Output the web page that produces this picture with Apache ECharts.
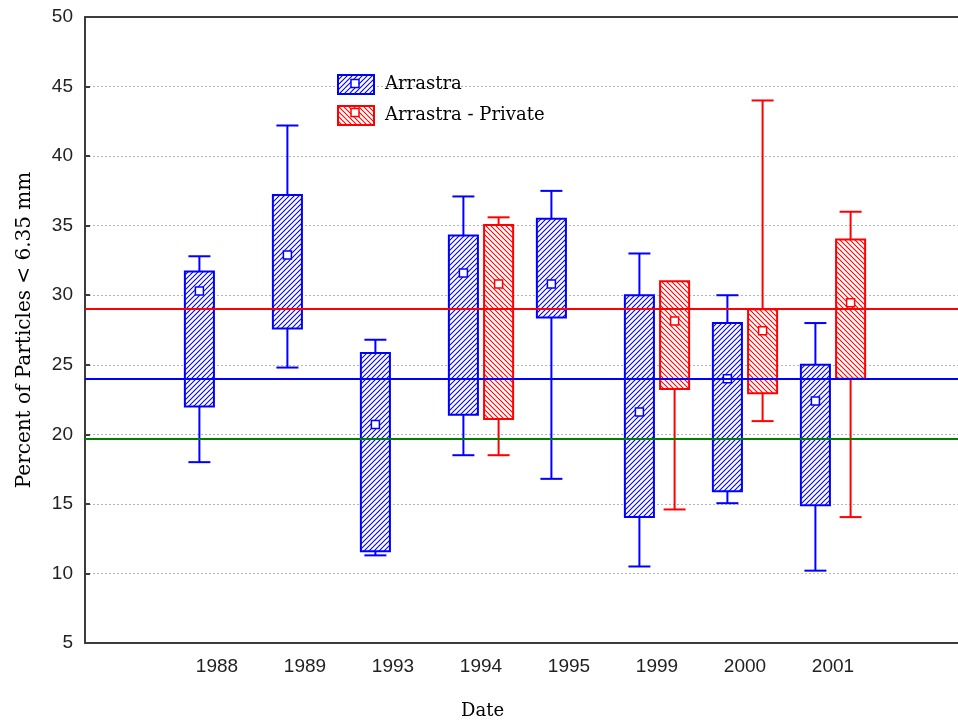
<!DOCTYPE html>
<html>
<head>
<meta charset="utf-8">
<script src="https://cdn.jsdelivr.net/npm/echarts@6/dist/echarts.min.js"></script>
<style>html,body{margin:0;padding:0;background:#fff;}#main{width:958px;height:724px;}</style>
</head>
<body>
<div id="main"></div>
<script>
// ---- data ----
const categories = ['', '1988', '1989', '1993', '1994', '1995', '1999', '2000', '2001', ' ', '  '];
const yTicks = [5, 10, 15, 20, 25, 30, 35, 40, 45, 50];

const arrastraYears = ['1988', '1989', '1993', '1994', '1995', '1999', '2000', '2001'];
const arrastraMin  = [18.0, 24.8, 11.3, 18.5, 16.8, 10.5, 15.05, 10.2];
const arrastraQ1   = [22.0, 27.6, 11.6, 21.4, 28.4, 14.05, 15.9, 14.9];
const arrastraMean = [30.3, 32.9, 20.7, 31.6, 30.8, 21.6, 24.0, 22.4];
const arrastraQ3   = [31.7, 37.2, 25.85, 34.3, 35.5, 30.0, 28.0, 25.0];
const arrastraMax  = [32.8, 42.2, 26.8, 37.1, 37.5, 33.0, 30.0, 28.0];

const privateYears = ['1994', '1999', '2000', '2001'];
const privateMin  = [18.5, 14.6, 20.95, 14.05];
const privateQ1   = [21.1, 23.25, 22.95, 24.0];
const privateMean = [30.8, 28.15, 27.45, 29.45];
const privateQ3   = [35.05, 31.0, 29.0, 34.0];
const privateMax  = [35.6, 31.0, 44.0, 36.0];

const refLineRed = 29.0;
const refLineBlue = 24.0;
const refLineGreen = 19.65;

// ---- styles ----
const BLUE = '#0000ff', RED = '#ff0000', GREEN = '#008000';

function hatch(color, dir) {
  const n = 5;
  const c = document.createElement('canvas');
  c.width = n; c.height = n;
  const ctx = c.getContext('2d');
  ctx.fillStyle = '#ffffff';
  ctx.fillRect(0, 0, n, n);
  ctx.strokeStyle = color;
  ctx.lineWidth = 1.1;
  ctx.beginPath();
  if (dir === '/') {
    for (let k = -1; k <= 1; k++) {
      ctx.moveTo(k * n - 1, n + 1);
      ctx.lineTo(k * n + n + 1, -1);
    }
  } else {
    for (let k = -1; k <= 1; k++) {
      ctx.moveTo(k * n - 1, -1);
      ctx.lineTo(k * n + n + 1, n + 1);
    }
  }
  ctx.stroke();
  return { image: c, repeat: 'repeat' };
}
const bluePattern = hatch(BLUE, '/');
const redPattern = hatch(RED, '\\');

function build(years, mn, q1, mean, q3, mx) {
  return years.map((y, i) => [y, mn[i], q1[i], mean[i], q3[i], mx[i]]);
}

function makeRender(offset, color, pattern) {
  return function (params, api) {
    const cat = api.value(0);
    const band = api.size([1, 0])[0];
    const cx = api.coord([cat, 0])[0] + offset * band;
    const yMin = api.coord([cat, api.value(1)])[1];
    const yQ1 = api.coord([cat, api.value(2)])[1];
    const yMean = api.coord([cat, api.value(3)])[1];
    const yQ3 = api.coord([cat, api.value(4)])[1];
    const yMax = api.coord([cat, api.value(5)])[1];
    const bw = band * 0.33;
    const cw = band * 0.25;
    const ls = { stroke: color, lineWidth: 2 };
    const children = [];
    if (yMax < yQ3 - 0.5) {
      children.push({ type: 'line', shape: { x1: cx, y1: yQ3, x2: cx, y2: yMax }, style: ls });
      children.push({ type: 'line', shape: { x1: cx - cw / 2, y1: yMax, x2: cx + cw / 2, y2: yMax }, style: ls });
    }
    if (yMin > yQ1 + 0.5) {
      children.push({ type: 'line', shape: { x1: cx, y1: yQ1, x2: cx, y2: yMin }, style: ls });
      children.push({ type: 'line', shape: { x1: cx - cw / 2, y1: yMin, x2: cx + cw / 2, y2: yMin }, style: ls });
    }
    children.push({ type: 'rect', shape: { x: cx - bw / 2, y: yQ3, width: bw, height: yQ1 - yQ3 },
      style: { fill: pattern, stroke: color, lineWidth: 2 } });
    children.push({ type: 'rect', shape: { x: cx - 4, y: yMean - 4, width: 8, height: 8 },
      style: { fill: '#ffffff', stroke: color, lineWidth: 1.5 } });
    return { type: 'group', children };
  };
}

const axisColor = '#3c3c3c';
const tickFont = { fontFamily: 'Liberation Sans', fontSize: 19, color: '#222' };
const serif = 'DejaVu Serif';

// legend layout (decoration only)
const legendLeft = 337, legendTop = 74, swatchW = 36, swatchH = 19, swatchGap = 10;

const chart = echarts.init(document.getElementById('main'), null, { renderer: 'canvas' });
chart.setOption({
  animation: false,
  backgroundColor: '#ffffff',
  grid: { left: 85, top: 17, bottom: 81, width: 968, containLabel: false, outerBoundsMode: 'none' },
  title: {
    text: 'Date', left: 461, top: 702, padding: 0,
    textStyle: { fontFamily: serif, fontSize: 18, fontWeight: 'normal', color: '#000' }
  },
  legend: {
    orient: 'vertical', left: legendLeft, top: legendTop, padding: 0,
    itemWidth: swatchW, itemHeight: swatchH, itemGap: swatchGap,
    textStyle: { fontFamily: serif, fontSize: 18, color: '#000', padding: [0, 0, 0, 6] },
    data: [
      { name: 'Arrastra', icon: 'rect', itemStyle: { color: bluePattern, borderColor: BLUE, borderWidth: 2 } },
      { name: 'Arrastra - Private', icon: 'rect', itemStyle: { color: redPattern, borderColor: RED, borderWidth: 2 } }
    ]
  },
  graphic: [
    { type: 'rect', z: 100, silent: true,
      shape: { x: legendLeft + swatchW / 2 - 4, y: legendTop + swatchH / 2 - 4, width: 8, height: 8 },
      style: { fill: '#ffffff', stroke: BLUE, lineWidth: 1.5 } },
    { type: 'rect', z: 100, silent: true,
      shape: { x: legendLeft + swatchW / 2 - 4, y: legendTop + swatchH + swatchGap + swatchH / 2 - 4, width: 8, height: 8 },
      style: { fill: '#ffffff', stroke: RED, lineWidth: 1.5 } }
  ],
  xAxis: [
    {
      type: 'category', data: categories, position: 'bottom',
      axisLine: { lineStyle: { color: axisColor, width: 2 } },
      axisTick: { inside: true, length: 5, alignWithLabel: true, lineStyle: { color: axisColor, width: 2 } },
      axisLabel: Object.assign({ margin: 14, interval: 0 }, tickFont),
      splitLine: { show: false }
    },
    {
      type: 'category', data: categories, position: 'top',
      axisLine: { lineStyle: { color: axisColor, width: 2 } },
      axisTick: { inside: true, length: 5, alignWithLabel: true, lineStyle: { color: axisColor, width: 2 } },
      axisLabel: { show: false },
      splitLine: { show: false }
    }
  ],
  yAxis: {
    type: 'value', min: yTicks[0], max: yTicks[yTicks.length - 1], interval: 5,
    name: 'Percent of Particles < 6.35 mm', nameLocation: 'middle', nameGap: 50, nameRotate: 90,
    nameTextStyle: { fontFamily: serif, fontSize: 20, color: '#000' },
    axisLine: { show: true, lineStyle: { color: axisColor, width: 2 } },
    axisTick: { show: true, inside: true, length: 5, lineStyle: { color: axisColor, width: 2 } },
    axisLabel: Object.assign({ margin: 12 }, tickFont),
    splitLine: { show: true, lineStyle: { color: '#b4b4b4', width: 1, type: [2, 2] } }
  },
  series: [
    {
      name: 'Arrastra', type: 'custom', xAxisIndex: 0, z: 3,
      renderItem: makeRender(-0.2, BLUE, bluePattern),
      encode: { x: 0, y: [1, 2, 3, 4, 5] },
      data: build(arrastraYears, arrastraMin, arrastraQ1, arrastraMean, arrastraQ3, arrastraMax)
    },
    {
      name: 'Arrastra - Private', type: 'custom', xAxisIndex: 0, z: 3,
      renderItem: makeRender(0.2, RED, redPattern),
      encode: { x: 0, y: [1, 2, 3, 4, 5] },
      data: build(privateYears, privateMin, privateQ1, privateMean, privateQ3, privateMax)
    },
    {
      name: 'ref', type: 'line', data: [], z: 6, xAxisIndex: 0,
      markLine: {
        silent: true, symbol: ['none', 'none'], label: { show: false }, z: 6,
        data: [
          { yAxis: refLineRed, lineStyle: { color: RED, width: 2, type: 'solid' } },
          { yAxis: refLineBlue, lineStyle: { color: BLUE, width: 2, type: 'solid' } },
          { yAxis: refLineGreen, lineStyle: { color: GREEN, width: 2, type: 'solid' } }
        ]
      }
    }
  ]
});
</script>
</body>
</html>
